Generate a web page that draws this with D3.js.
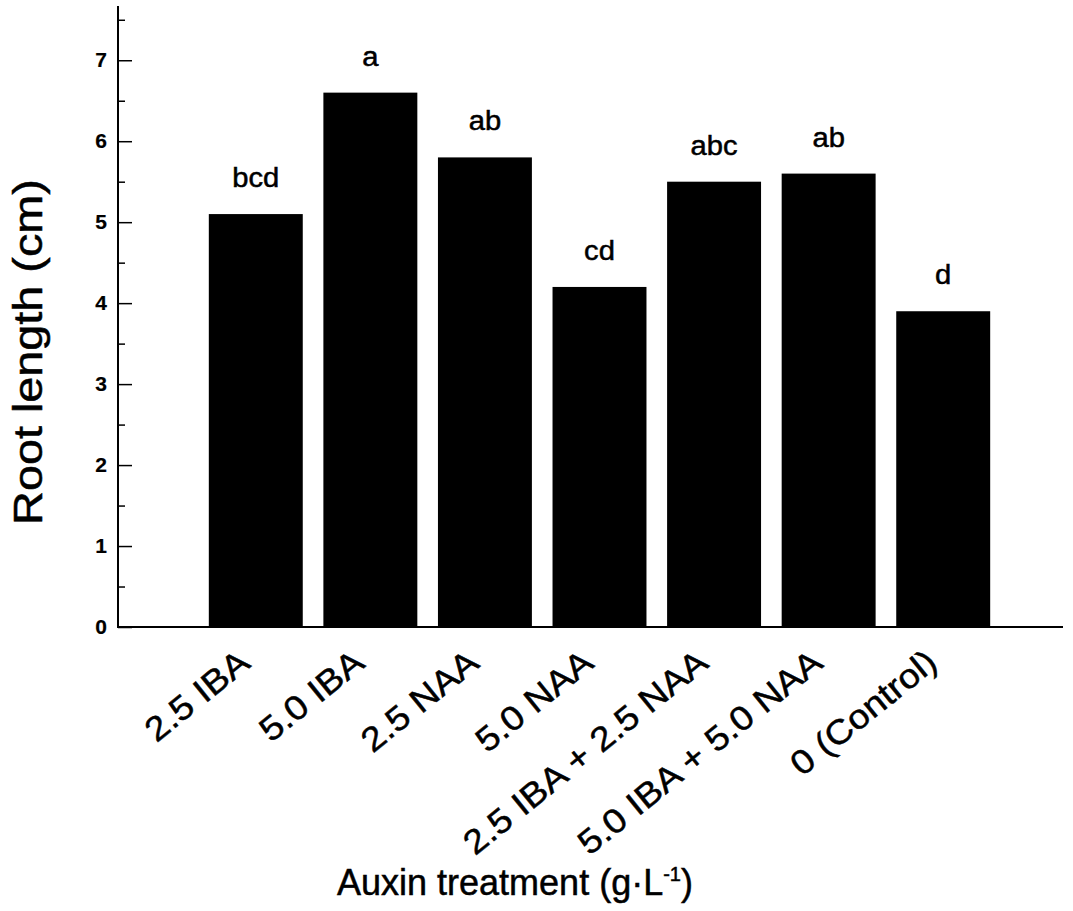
<!DOCTYPE html>
<html>
<head>
<meta charset="utf-8">
<script src="https://cdn.jsdelivr.net/npm/d3@7"></script>
<style>
  html, body { margin: 0; padding: 0; background: #fff; }
  text { font-family: "Liberation Sans", Arial, Helvetica, sans-serif; fill: #000; stroke: #000; stroke-width: 0.5px; }
</style>
</head>
<body>
<svg id="chart" width="1073" height="911"></svg>
<script>
const categories = ["2.5 IBA", "5.0 IBA", "2.5 NAA", "5.0 NAA", "2.5 IBA + 2.5 NAA", "5.0 IBA + 5.0 NAA", "0 (Control)"];
const rootLength = [5.1, 6.6, 5.8, 4.2, 5.5, 5.6, 3.9];
const letters = ["bcd", "a", "ab", "cd", "abc", "ab", "d"];
const yMajorTicks = [0, 1, 2, 3, 4, 5, 6, 7];
const yMinorTicks = [0.5, 1.5, 2.5, 3.5, 4.5, 5.5, 6.5, 7.5];
const yTitle = "Root length (cm)";
const xTitleMain = "Auxin treatment (g·L";
const xTitleSup = "-1";
const xTitleEnd = ")";

const svg = d3.select("#chart");
const axisX0 = 118, axisX1 = 1063, baseY = 627, topY = 6;

const y = d3.scaleLinear().domain([0, 7.67]).range([baseY, topY]);
const x = d3.scaleBand().domain(categories).range([198.5, 1000.5]).paddingInner(0.18).paddingOuter(0.09);

// bars
svg.append("g").selectAll("rect").data(categories).join("rect")
  .attr("x", d => x(d))
  .attr("y", (d, i) => y(rootLength[i]))
  .attr("width", x.bandwidth())
  .attr("height", (d, i) => y(0) - y(rootLength[i]))
  .attr("fill", "#000");

// letters above bars
svg.append("g").selectAll("text").data(categories).join("text")
  .attr("transform", (d, i) => `translate(${x(d) + x.bandwidth() / 2},${y(rootLength[i]) - 27}) scale(1.08,1)`)
  .attr("text-anchor", "middle")
  .style("font-size", "27px")
  .text((d, i) => letters[i]);

// y axis major
const yAxis = d3.axisLeft(y).tickValues(yMajorTicks).tickSize(-14).tickPadding(11).tickFormat(d3.format("d"));
const gy = svg.append("g").attr("transform", `translate(${axisX0},0)`).call(yAxis);
gy.select(".domain").remove();
gy.selectAll(".tick line").attr("stroke", "#000").attr("stroke-width", 1.5);
gy.selectAll(".tick text").style("font-size", "21px").style("font-weight", "bold")
  .style("font-family", "'Liberation Sans', Arial, sans-serif").style("stroke-width", "0.2px");

// y axis minor
const yAxisMinor = d3.axisLeft(y).tickValues(yMinorTicks).tickSize(-7).tickFormat("");
const gym = svg.append("g").attr("transform", `translate(${axisX0},0)`).call(yAxisMinor);
gym.select(".domain").remove();
gym.selectAll(".tick line").attr("stroke", "#000").attr("stroke-width", 1.5);

// axis lines
svg.append("line").attr("x1", axisX0).attr("x2", axisX0).attr("y1", y(7.67)).attr("y2", y(0) + 1)
  .attr("stroke", "#000").attr("stroke-width", 2);
svg.append("line").attr("x1", axisX0).attr("x2", axisX1).attr("y1", y(0)).attr("y2", y(0))
  .attr("stroke", "#000").attr("stroke-width", 2);

// category labels
svg.append("g").selectAll("text").data(categories).join("text")
  .attr("transform", d => `translate(${x(d) + x.bandwidth() / 2 - 4},666) rotate(-39) scale(1.1,1)`)
  .attr("text-anchor", "end")
  .style("font-size", "34px")
  .text(d => d);

// y title
svg.append("text")
  .attr("transform", "translate(42,352) rotate(-90) scale(1.17,1)")
  .attr("text-anchor", "middle")
  .style("font-size", "40px")
  .text(yTitle);

// x title
const xt = svg.append("text")
  .attr("x", 515).attr("y", 895)
  .attr("text-anchor", "middle")
  .style("font-size", "36px");
xt.append("tspan").text(xTitleMain);
xt.append("tspan").attr("dy", -14).style("font-size", "20px").text(xTitleSup);
xt.append("tspan").attr("dy", 14).text(xTitleEnd);
</script>
</body>
</html>
